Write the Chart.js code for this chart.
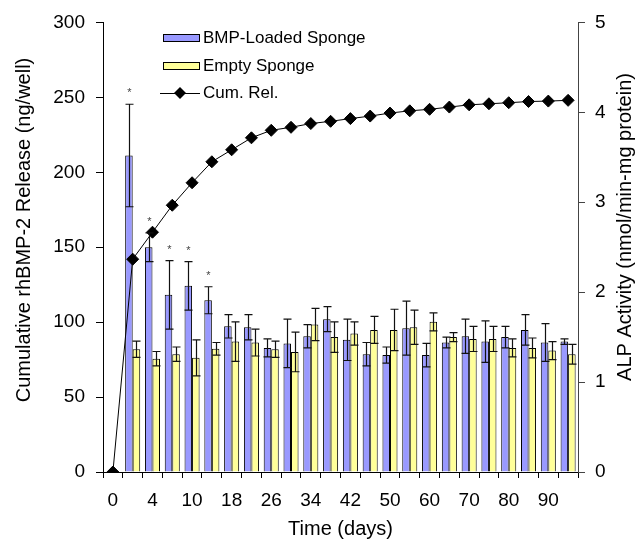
<!DOCTYPE html>
<html>
<head>
<meta charset="utf-8">
<script src="https://cdn.jsdelivr.net/npm/chart.js"></script>
<style>
    html, body { margin: 0; padding: 0; background: #fff; }
    canvas { display: block; }
</style>
</head>
<body>
<canvas id="releaseChart" width="643" height="542"></canvas>
<script>
// time points (days) - only every other one is labelled on the axis
const days = [0, 2, 4, 7, 10, 14, 18, 22, 26, 30, 34, 38, 42, 46, 50, 55, 60, 65, 70, 75, 80, 85, 90, 95];

// cumulative rhBMP-2 release (ng/well), left axis
const cumRelease = [0, 142, 160, 178, 193, 207, 215, 223, 228, 230, 232.5, 234, 235.8, 237.5, 239.5, 241, 242, 243.5, 245, 245.7, 246.4, 247.2, 247.5, 248];

// ALP activity (nmol/min-mg protein), right axis
const bmpAlp = [null, 3.52, 2.50, 1.97, 2.07, 1.91, 1.62, 1.61, 1.38, 1.43, 1.51, 1.70, 1.47, 1.31, 1.30, 1.60, 1.30, 1.44, 1.51, 1.45, 1.50, 1.58, 1.44, 1.45];
const bmpErr = [null, 0.57, 0.16, 0.38, 0.27, 0.15, 0.13, 0.14, 0.10, 0.27, 0.13, 0.14, 0.23, 0.13, 0.09, 0.30, 0.13, 0.06, 0.19, 0.23, 0.12, 0.17, 0.21, 0.03];
const emptyAlp = [null, 1.365, 1.26, 1.31, 1.27, 1.37, 1.45, 1.44, 1.365, 1.335, 1.64, 1.50, 1.54, 1.58, 1.58, 1.61, 1.67, 1.50, 1.48, 1.48, 1.38, 1.38, 1.35, 1.31];
const emptyErr = [null, 0.09, 0.08, 0.08, 0.20, 0.07, 0.22, 0.15, 0.09, 0.22, 0.18, 0.17, 0.13, 0.15, 0.23, 0.19, 0.10, 0.05, 0.14, 0.14, 0.10, 0.11, 0.10, 0.11];

// significance markers on the BMP bars
const starred = [1, 2, 3, 4, 5];

const leftTicks = [0, 50, 100, 150, 200, 250, 300];
const rightTicks = [0, 1, 2, 3, 4, 5];

const FONT = "'Liberation Sans', Arial, sans-serif";

// error bars + asterisks drawn through the bar scale
const errorBars = {
    id: 'errorBars',
    afterDatasetsDraw(chart) {
        const ctx = chart.ctx;
        const y1 = chart.scales.y1;
        const sets = [[1, bmpAlp, bmpErr], [2, emptyAlp, emptyErr]];
        ctx.save();
        ctx.strokeStyle = '#111';
        ctx.lineWidth = 1.2;
        sets.forEach(([dsIndex, vals, errs]) => {
            const meta = chart.getDatasetMeta(dsIndex);
            meta.data.forEach((bar, i) => {
                if (vals[i] == null) return;
                const x = Math.round(bar.x) + 0.5;
                const top = y1.getPixelForValue(vals[i] + errs[i]);
                const bot = y1.getPixelForValue(vals[i] - errs[i]);
                ctx.beginPath();
                ctx.moveTo(x, top);
                ctx.lineTo(x, bot);
                ctx.moveTo(x - 4, top);
                ctx.lineTo(x + 4, top);
                ctx.moveTo(x - 4, bot);
                ctx.lineTo(x + 4, bot);
                ctx.stroke();
                if (dsIndex === 1 && starred.includes(i)) {
                    ctx.fillStyle = '#444';
                    ctx.font = '11px ' + FONT;
                    ctx.textAlign = 'center';
                    ctx.textBaseline = 'middle';
                    ctx.fillText('*', x, top - 11);
                }
            });
        });
        ctx.restore();
    }
};

// legend inside the plot (top-left) and both vertical axis titles
const insideLegend = {
    id: 'insideLegend',
    afterDraw(chart) {
        const ctx = chart.ctx;
        const bx = 163, tx = 203;
        const rows = [38, 66, 93];
        ctx.save();
        ctx.font = '17px ' + FONT;
        ctx.textBaseline = 'middle';
        ctx.strokeStyle = '#000';
        ctx.lineWidth = 1;

        ctx.fillStyle = '#9999ff';
        ctx.fillRect(bx, rows[0] - 3.5, 36, 7);
        ctx.strokeRect(bx + 0.5, rows[0] - 3.5, 36, 7);
        ctx.fillStyle = '#ffff99';
        ctx.fillRect(bx, rows[1] - 3.5, 36, 7);
        ctx.strokeRect(bx + 0.5, rows[1] - 3.5, 36, 7);

        ctx.beginPath();
        ctx.moveTo(bx - 3, rows[2] + 0.5);
        ctx.lineTo(bx + 37, rows[2] + 0.5);
        ctx.stroke();
        ctx.fillStyle = '#000';
        ctx.beginPath();
        ctx.moveTo(bx + 17, rows[2] - 6);
        ctx.lineTo(bx + 23, rows[2]);
        ctx.lineTo(bx + 17, rows[2] + 6);
        ctx.lineTo(bx + 11, rows[2]);
        ctx.closePath();
        ctx.fill();

        ctx.fillText('BMP-Loaded Sponge', tx, rows[0]);
        ctx.fillText('Empty Sponge', tx, rows[1]);
        ctx.fillText('Cum. Rel.', tx, rows[2]);

        ctx.font = '20px ' + FONT;
        ctx.textAlign = 'center';
        ctx.save();
        ctx.translate(24, 230);
        ctx.rotate(-Math.PI / 2);
        ctx.fillText('Cumulative rhBMP-2 Release (ng/well)', 0, 0);
        ctx.restore();
        ctx.translate(625, 227);
        ctx.rotate(-Math.PI / 2);
        ctx.fillText('ALP Activity (nmol/min-mg protein)', 0, 0);
        ctx.restore();
    }
};

new Chart(document.getElementById('releaseChart'), {
    data: {
        labels: days,
        datasets: [
            {
                type: 'line',
                label: 'Cum. Rel.',
                data: cumRelease,
                yAxisID: 'y',
                borderColor: '#000',
                borderWidth: 1,
                pointStyle: 'rectRot',
                pointRadius: 6,
                pointBackgroundColor: '#000',
                pointBorderColor: '#000',
                tension: 0,
                order: 0
            },
            {
                type: 'bar',
                label: 'BMP-Loaded Sponge',
                data: bmpAlp,
                yAxisID: 'y1',
                backgroundColor: '#9999ff',
                borderColor: '#000',
                borderWidth: 1,
                categoryPercentage: 0.76,
                barPercentage: 1,
                order: 1
            },
            {
                type: 'bar',
                label: 'Empty Sponge',
                data: emptyAlp,
                yAxisID: 'y1',
                backgroundColor: '#ffff99',
                borderColor: '#000',
                borderWidth: 1,
                categoryPercentage: 0.76,
                barPercentage: 1,
                order: 1
            }
        ]
    },
    options: {
        responsive: false,
        animation: false,
        layout: { padding: { top: 19, left: 0, right: 0, bottom: 0 } },
        plugins: {
            legend: { display: false },
            tooltip: { enabled: false }
        },
        scales: {
            x: {
                type: 'category',
                offset: true,
                afterFit: s => { s.height = 70; },
                border: { color: '#000', width: 1 },
                grid: { display: true, drawOnChartArea: false, offset: true, tickLength: 6, color: '#000' },
                ticks: {
                    color: '#000',
                    font: { family: FONT, size: 19 },
                    autoSkip: false,
                    maxRotation: 0,
                    padding: 11,
                    callback: (v, i) => (i % 2 === 0 && i < 23 ? days[i] : '')
                },
                title: {
                    display: true,
                    text: 'Time (days)',
                    color: '#000',
                    font: { family: FONT, size: 20 },
                    padding: { top: 0, bottom: 1 }
                }
            },
            y: {
                position: 'left',
                min: 0,
                max: 300,
                afterFit: s => { s.width = 103; },
                afterBuildTicks: s => { s.ticks = leftTicks.map(v => ({ value: v })); },
                border: { color: '#000', width: 1 },
                grid: { display: true, drawOnChartArea: false, tickLength: 7, color: '#000' },
                ticks: { color: '#000', font: { family: FONT, size: 19 }, padding: 11 }
            },
            y1: {
                position: 'right',
                min: 0,
                max: 5,
                afterFit: s => { s.width = 65; },
                afterBuildTicks: s => { s.ticks = rightTicks.map(v => ({ value: v })); },
                border: { color: '#444', width: 1 },
                grid: { display: true, drawOnChartArea: false, tickLength: 7, color: '#444' },
                ticks: { color: '#000', font: { family: FONT, size: 19 }, padding: 10 }
            }
        }
    },
    plugins: [errorBars, insideLegend]
});
</script>
</body>
</html>
